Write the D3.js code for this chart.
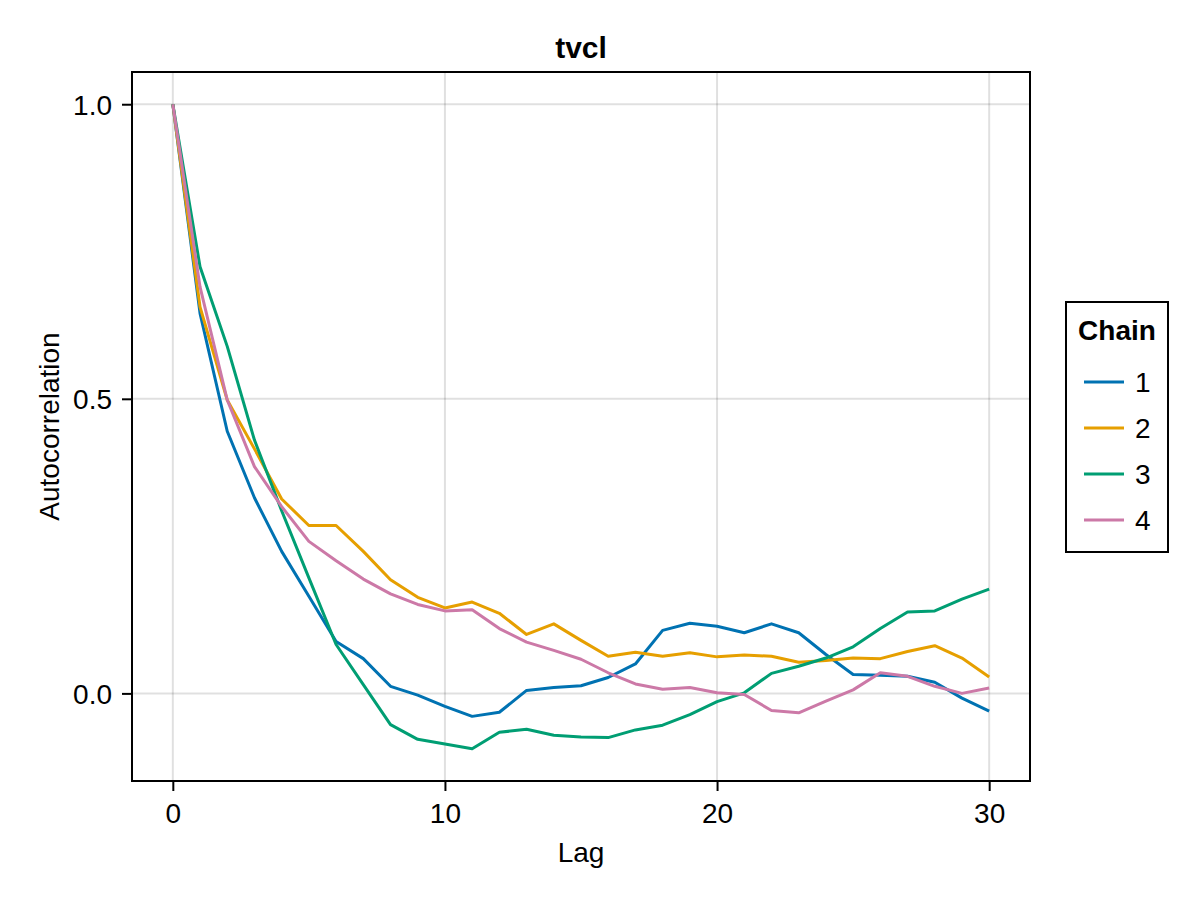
<!DOCTYPE html>
<html>
<head>
<meta charset="utf-8">
<script src="https://cdn.jsdelivr.net/npm/d3@7"></script>
<style>
  body { margin: 0; background: #fff; }
  text { font-family: "Liberation Sans", Arial, sans-serif; fill: #000; }
</style>
</head>
<body>
<script>
let width = 1200
let height = 900
let margin = { top: 72, right: 170, bottom: 119, left: 132 }

// data
let lags = d3.range(0, 31)
let chains = ["1", "2", "3", "4"]
let chain1 = [1.0, 0.645, 0.445, 0.332, 0.241, 0.165, 0.088, 0.059, 0.012, -0.003, -0.022,
    -0.039, -0.032, 0.005, 0.010, 0.013, 0.027, 0.050, 0.107, 0.119, 0.114,
    0.103, 0.118, 0.103, 0.066, 0.032, 0.031, 0.029, 0.019, -0.008, -0.030]
let chain2 = [1.0, 0.656, 0.498, 0.415, 0.330, 0.285, 0.285, 0.241, 0.193, 0.163, 0.145,
    0.155, 0.136, 0.100, 0.118, 0.090, 0.063, 0.070, 0.063, 0.069, 0.062,
    0.065, 0.063, 0.053, 0.056, 0.060, 0.059, 0.071, 0.081, 0.060, 0.028]
let chain3 = [1.0, 0.724, 0.589, 0.430, 0.310, 0.196, 0.083, 0.015, -0.053, -0.078, -0.086,
    -0.094, -0.066, -0.061, -0.071, -0.074, -0.075, -0.062, -0.054, -0.036, -0.014,
    0.001, 0.034, 0.046, 0.060, 0.079, 0.110, 0.138, 0.140, 0.160, 0.177]
let chain4 = [1.0, 0.690, 0.498, 0.385, 0.317, 0.258, 0.225, 0.194, 0.169, 0.151, 0.140,
    0.142, 0.110, 0.087, 0.073, 0.058, 0.035, 0.016, 0.007, 0.010, 0.001,
    -0.002, -0.029, -0.033, -0.013, 0.006, 0.035, 0.029, 0.012, 0.000, 0.009]
let series = [chain1, chain2, chain3, chain4]
let colors = ["#0072B2", "#E69F00", "#009E73", "#CC79A7"]
let xTicks = [0, 10, 20, 30]
let yTicks = [0.0, 0.5, 1.0]

let svg = d3.select("body").append("svg")
    .attr("width", width)
    .attr("height", height)

let pw = width - margin.left - margin.right
let ph = height - margin.top - margin.bottom

let pad = (lo, hi) => [lo - (hi - lo) * 0.05, hi + (hi - lo) * 0.05]
let allVals = series.flat()
let x = d3.scaleLinear().domain(pad(d3.min(lags), d3.max(lags))).range([margin.left, margin.left + pw])
let y = d3.scaleLinear().domain(pad(d3.min(allVals), d3.max(allVals))).range([margin.top + ph, margin.top])

// grid
let grid = svg.append("g")
grid.selectAll(".vgrid").data(xTicks).enter().append("line")
    .attr("x1", d => x(d)).attr("x2", d => x(d))
    .attr("y1", margin.top).attr("y2", margin.top + ph)
    .attr("stroke", "rgba(0,0,0,0.12)").attr("stroke-width", 2)
grid.selectAll(".hgrid").data(yTicks).enter().append("line")
    .attr("y1", d => y(d)).attr("y2", d => y(d))
    .attr("x1", margin.left).attr("x2", margin.left + pw)
    .attr("stroke", "rgba(0,0,0,0.12)").attr("stroke-width", 2)

// series
let line = d3.line().x((d, i) => x(lags[i])).y(d => y(d))
svg.selectAll(".series").data(series).enter().append("path")
    .attr("class", "series")
    .attr("d", d => line(d))
    .attr("fill", "none")
    .attr("stroke", (d, i) => colors[i])
    .attr("stroke-width", 3)
    .attr("stroke-linejoin", "round")

// frame
svg.append("rect")
    .attr("x", margin.left).attr("y", margin.top)
    .attr("width", pw).attr("height", ph)
    .attr("fill", "none").attr("stroke", "#000").attr("stroke-width", 2)

// axes
let xAxis = svg.append("g")
    .attr("transform", "translate(0," + (margin.top + ph) + ")")
    .call(d3.axisBottom(x).tickValues(xTicks).tickSize(10).tickPadding(12).tickFormat(d3.format("d")))
let yAxis = svg.append("g")
    .attr("transform", "translate(" + margin.left + ",0)")
    .call(d3.axisLeft(y).tickValues(yTicks).tickSize(10).tickPadding(10).tickFormat(d3.format(".1f")))
;[xAxis, yAxis].forEach(a => {
    a.select(".domain").remove()
    a.selectAll(".tick line").attr("stroke", "#000").attr("stroke-width", 2)
    a.selectAll(".tick text").style("font-size", "28px").style("font-family", "Liberation Sans, Arial, sans-serif")
})
yAxis.selectAll(".tick text").attr("dy", "0.36em")

// titles
svg.append("text")
    .attr("x", margin.left + pw / 2).attr("y", 58)
    .attr("text-anchor", "middle")
    .style("font-size", "30px").style("font-weight", "bold")
    .text("tvcl")
svg.append("text")
    .attr("x", margin.left + pw / 2).attr("y", 862)
    .attr("text-anchor", "middle")
    .style("font-size", "28px")
    .text("Lag")
svg.append("text")
    .attr("transform", "translate(59," + (margin.top + ph / 2) + ") rotate(-90)")
    .attr("text-anchor", "middle")
    .style("font-size", "28px")
    .text("Autocorrelation")

// legend
let legend = svg.append("g")
legend.append("rect")
    .attr("x", 1066).attr("y", 302)
    .attr("width", 102).attr("height", 250)
    .attr("fill", "#fff").attr("stroke", "#000").attr("stroke-width", 2)
legend.append("text")
    .attr("x", 1117).attr("y", 340)
    .attr("text-anchor", "middle")
    .style("font-size", "28px").style("font-weight", "bold")
    .text("Chain")
let items = legend.selectAll(".item").data(chains).enter().append("g")
    .attr("transform", (d, i) => "translate(0," + (382 + i * 46) + ")")
items.append("line")
    .attr("x1", 1084).attr("x2", 1124)
    .attr("stroke", (d, i) => colors[i]).attr("stroke-width", 3)
items.append("text")
    .attr("x", 1135).attr("y", 10)
    .style("font-size", "28px")
    .text(d => d)
</script>
</body>
</html>
